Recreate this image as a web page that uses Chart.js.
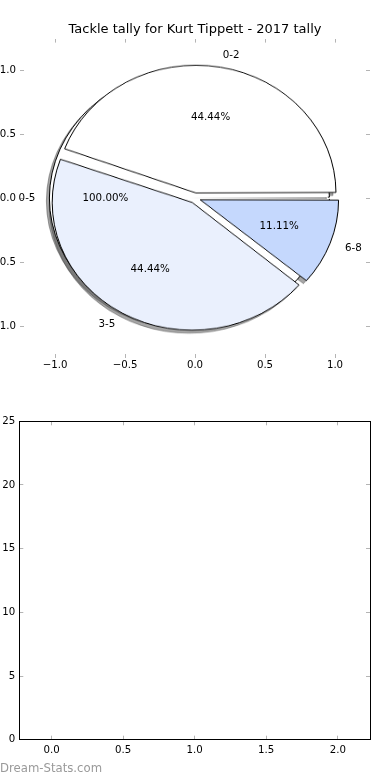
<!DOCTYPE html>
<html>
<head>
<meta charset="utf-8">
<script src="https://cdn.jsdelivr.net/npm/chart.js@4.4.1/dist/chart.umd.min.js"></script>
<style>
html,body{margin:0;padding:0;background:#fff;}
#page{position:relative;width:390px;height:780px;overflow:hidden;background:#fff;}
.layer{position:absolute;left:0;}
.pie{position:absolute;transform-origin:50% 50%;}
#mark{position:absolute;left:0;top:761px;font-family:"DejaVu Sans",sans-serif;font-size:11.7px;line-height:14px;color:#9a9a9a;white-space:nowrap;}
</style>
</head>
<body>
<div id="page">
  <div class="pie" id="wrapShWedges"><canvas id="shWedges"></canvas></div>
  <div class="pie" id="wrapShCircle"><canvas id="shCircle"></canvas></div>
  <div class="pie" id="wrapCircle"><canvas id="circle"></canvas></div>
  <div class="pie" id="wrapWedges"><canvas id="wedges"></canvas></div>
  <canvas id="pieAxes" class="layer" style="top:0;width:390px;height:380px" width="390" height="380"></canvas>
  <canvas id="barAxes" class="layer" style="top:400px;width:390px;height:380px" width="390" height="380"></canvas>
  <div id="mark">Dream-Stats.com</div>
</div>
<script>
// ---- data ----
const chartTitle = 'Tackle tally for Kurt Tippett - 2017 tally';
const categories = ['0-2', '3-5', '6-8'];
const tallies = [4, 4, 1];
const overlayCategories = ['0-5'];
const overlayTallies = [9];
const pieTickValues = [-1, -0.5, 0, 0.5, 1];
const pieXTickLabels = ['\u22121.0', '\u22120.5', '0.0', '0.5', '1.0'];
const pieYTickLabels = ['\u22121.0', '\u22120.5', '0.0', '0.5', '1.0'];
const barXTickValues = [0, 0.5, 1, 1.5, 2];
const barXTickLabels = ['0.0', '0.5', '1.0', '1.5', '2.0'];
const barYTickValues = [0, 5, 10, 15, 20, 25];
const barYTickLabels = ['0', '5', '10', '15', '20', '25'];

// ---- style ----
const FONT = '"DejaVu Sans", sans-serif';
Chart.defaults.font.family = FONT;
const EXPLODE = 0.04, SHADOW = -0.02, LABEL_R = 1.1, PCT_R = 0.6;
const wedgeColors = ['#ffffff', '#eaf0fd', '#c5d8fd'];
const shadowColor = 'rgba(77,77,77,0.5)';

function axis(pos, min, max, vals, labels, show, size, pad, border) {
  const horiz = pos === 'top' || pos === 'bottom';
  return {
    type: 'linear', axis: horiz ? 'x' : 'y', position: pos, min, max,
    afterBuildTicks: s => { s.ticks = vals.map(v => ({ value: v })); },
    afterFit: s => { if (horiz) s.height = size; else s.width = size; },
    ticks: { display: show, color: '#000', font: { size: 10.2 }, padding: pad, autoSkip: false, maxRotation: 0,
             callback: (v, i) => labels[i] },
    grid: { display: true, drawOnChartArea: false, drawTicks: true, tickLength: -4, tickColor: '#b4b4b4', tickWidth: 1 },
    border: { display: border, color: '#000', width: 1 }
  };
}

// labels for pie slices (matplotlib placement)
const pieLabels = {
  id: 'pieLabels',
  afterDraw(chart) {
    const { ctx, scales: { x, y } } = chart;
    ctx.save();
    ctx.font = '10.3px ' + FONT;
    ctx.fillStyle = '#000';
    ctx.textBaseline = 'middle';
    const draw = (labels, values) => {
      const total = values.reduce((a, b) => a + b, 0);
      let t1 = 0;
      values.forEach((v, i) => {
        const t2 = t1 + 360 * v / total;
        const m = (t1 + t2) / 2 * Math.PI / 180;
        const ox = EXPLODE * Math.cos(m), oy = EXPLODE * Math.sin(m);
        const lx = ox + LABEL_R * Math.cos(m), ly = oy + LABEL_R * Math.sin(m);
        ctx.textAlign = lx > 0 ? 'left' : 'right';
        ctx.fillText(labels[i], x.getPixelForValue(lx), y.getPixelForValue(ly));
        ctx.textAlign = 'center';
        ctx.fillText((100 * v / total).toFixed(2) + '%',
          x.getPixelForValue(ox + PCT_R * Math.cos(m)), y.getPixelForValue(oy + PCT_R * Math.sin(m)));
        t1 = t2;
      });
    };
    draw(overlayCategories, overlayTallies);
    draw(categories, tallies);
    ctx.restore();
  }
};

const axesChart = new Chart(document.getElementById('pieAxes'), {
  type: 'scatter',
  data: { datasets: [{ data: [] }] },
  options: {
    responsive: false, devicePixelRatio: 1, animation: false, events: [],
    layout: { padding: 0 },
    plugins: {
      legend: { display: false }, tooltip: { enabled: false },
      title: { display: true, text: chartTitle, color: '#000', font: { size: 13, weight: 'normal' }, padding: { top: 22, bottom: 0 } }
    },
    scales: {
      x: axis('bottom', -1.25, 1.25, pieTickValues, pieXTickLabels, true, 22, 5.5, false),
      x2: axis('top', -1.25, 1.25, pieTickValues, pieXTickLabels, false, 1.0, 0, false),
      y: axis('left', -1.25, 1.25, pieTickValues, pieYTickLabels, true, 20, 8, false),
      y2: axis('right', -1.25, 1.25, pieTickValues, pieYTickLabels, false, 20, 0, false)
    }
  },
  plugins: [pieLabels]
});

// ---- pies placed through the axes' scales ----
const xs = axesChart.scales.x, ys = axesChart.scales.y;
const cx = xs.getPixelForValue(0), cy = ys.getPixelForValue(0);
const rx = xs.getPixelForValue(1) - cx, ry = cy - ys.getPixelForValue(1);
const shx = xs.getPixelForValue(SHADOW) - cx, shy = ys.getPixelForValue(SHADOW) - cy;
const explodePx = EXPLODE * rx;
const size = Math.ceil(2 * (rx + 20));
const totalT = tallies.reduce((a, b) => a + b, 0);
const fixW = 1 - Math.sin(Math.min(Math.PI, 2 * Math.PI * Math.max(...tallies) / totalT));

function place(wrapId, canvasId, dx, dy) {
  const w = document.getElementById(wrapId), c = document.getElementById(canvasId);
  w.style.width = size + 'px'; w.style.height = size + 'px';
  w.style.left = (cx - size / 2 + dx) + 'px'; w.style.top = (cy - size / 2 + dy) + 'px';
  w.style.transform = 'scaleY(' + (ry / rx) + ')';
  c.width = size; c.height = size; c.style.width = size + 'px'; c.style.height = size + 'px';
  return c;
}
function pie(canvas, labels, values, colors, borderColor, radius, extra) {
  return new Chart(canvas, {
    type: 'pie',
    data: { labels, datasets: [Object.assign({ data: values, backgroundColor: colors, borderColor, borderWidth: 1, offset: explodePx * 4 }, extra || {})] },
    options: {
      responsive: false, devicePixelRatio: 1, animation: false, events: [], rotation: 90, radius,
      layout: { padding: 0 },
      plugins: { legend: { display: false }, tooltip: { enabled: false }, title: { display: false } }
    }
  });
}
const revCats = categories.slice().reverse();
const revVals = tallies.slice().reverse();
const revColors = wedgeColors.slice().reverse();
const circleDash = { borderDash: [2 * Math.PI * rx - 0.5, 4 * rx] };

pie(place('wrapShWedges', 'shWedges', shx, shy), revCats, revVals, shadowColor, shadowColor, rx - explodePx * fixW);
pie(place('wrapShCircle', 'shCircle', shx, shy), overlayCategories, overlayTallies, shadowColor, shadowColor, rx - explodePx, circleDash);
pie(place('wrapCircle', 'circle', 0, 0), overlayCategories, overlayTallies, '#ffffff', '#000000', rx - explodePx, circleDash);
pie(place('wrapWedges', 'wedges', 0, 0), revCats, revVals, revColors, '#000000', rx - explodePx * fixW);

// ---- empty lower axes ----
new Chart(document.getElementById('barAxes'), {
  type: 'scatter',
  data: { datasets: [{ data: [] }] },
  options: {
    responsive: false, devicePixelRatio: 1, animation: false, events: [],
    layout: { padding: 0 },
    plugins: { legend: { display: false }, tooltip: { enabled: false } },
    scales: {
      x: axis('bottom', -0.225, 2.225, barXTickValues, barXTickLabels, true, 40.3, 9, true),
      x2: axis('top', -0.225, 2.225, barXTickValues, barXTickLabels, false, 21.3, 0, true),
      y: axis('left', 0, 25, barYTickValues, barYTickLabels, true, 19.3, 8, true),
      y2: axis('right', 0, 25, barYTickValues, barYTickLabels, false, 20, 0, true)
    }
  }
});
</script>
</body>
</html>
